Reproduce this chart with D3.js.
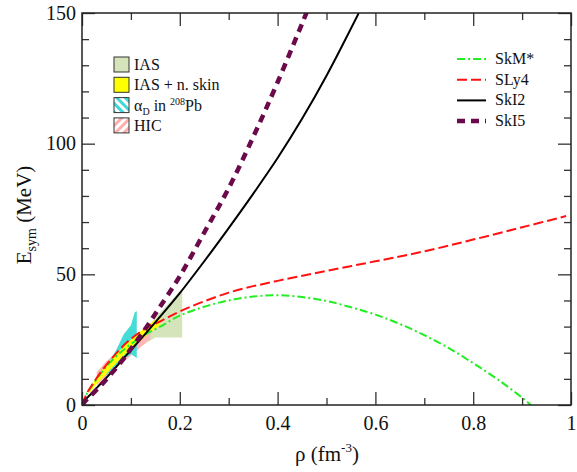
<!DOCTYPE html>
<meta charset="utf-8">
<style>
  body { margin: 0; background: #fff; }
  svg text { font-family: "Liberation Serif", "Times New Roman", Times, "DejaVu Serif", serif; fill: #111; }
  .leg text { font-size: 16px; }
</style>
<body>
<svg width="577" height="472"></svg>
<script src="https://d3js.org/d3.v7.min.js"></script>
<script>
// ---- data ----
var rhoSkI5 = [0, 0.01, 0.02, 0.04, 0.06, 0.08, 0.1, 0.13, 0.156, 0.2, 0.25, 0.3, 0.35, 0.4, 0.46];
var eSkI5   = [0, 2.2, 4, 7.8, 12, 16.5, 21.5, 29.3, 36.6, 49.3, 66, 83, 102.5, 123.5, 150.5];

var rhoSkI2 = [0, 0.01, 0.02, 0.04, 0.06, 0.08, 0.1, 0.13, 0.158, 0.2, 0.25, 0.3, 0.35, 0.4, 0.45, 0.5, 0.566];
var eSkI2   = [0, 2.6, 4.5, 8.5, 12.5, 16.8, 21, 27.3, 33.4, 42.8, 55, 67.7, 80.8, 94.5, 109.5, 126, 150];

var rhoSLy4 = [0, 0.01, 0.02, 0.04, 0.06, 0.08, 0.1, 0.13, 0.16, 0.2, 0.3, 0.4, 0.5, 0.6, 0.7, 0.8, 0.9, 0.99];
var eSLy4   = [0, 4.5, 7.5, 13, 17.6, 21.8, 25.3, 29.3, 32, 35.8, 43, 47.5, 51.3, 55, 58.8, 63.3, 68, 72.3];

var rhoSkMs = [0, 0.01, 0.02, 0.04, 0.06, 0.08, 0.1, 0.13, 0.16, 0.2, 0.25, 0.3, 0.35, 0.4, 0.45, 0.5, 0.55, 0.6, 0.65, 0.7, 0.75, 0.8, 0.85, 0.9, 0.918];
var eSkMs   = [0, 4.3, 7.2, 12.5, 16.8, 20.3, 23.3, 27, 30, 34.2, 37.6, 40, 41.5, 42, 41.3, 39.8, 37.4, 34.6, 31, 26.7, 21.8, 16, 9.8, 2.8, 0];

// IAS band (visible patch)
var rhoIAS = [0.09, 0.12, 0.15, 0.18, 0.205];
var upIAS  = [19.5, 26.5, 33.5, 39.5, 44.5];
var loIAS  = [17.5, 22.5, 25.8, 25.8, 25.8];

// IAS + neutron skin band
var rhoSkin = [0.015, 0.03, 0.05, 0.07, 0.09, 0.11, 0.13, 0.15, 0.16];
var upSkin  = [6.5, 10.5, 15.5, 19.5, 23.2, 26.7, 29.8, 32.6, 33.8];
var loSkin  = [4.5, 8, 12, 16, 19.8, 23.2, 26.3, 29.3, 30.6];

// HIC band
var rhoHIC = [0.03, 0.05, 0.07, 0.09, 0.11, 0.13, 0.14];
var upHIC  = [12.5, 16.8, 20, 22.6, 25, 27.3, 28.2];
var loHIC  = [7.5, 11, 14.2, 17.3, 20.5, 23.7, 25.3];

// alpha_D in 208Pb patch
var rhoAD = [0.05, 0.07, 0.085, 0.1, 0.108, 0.112];
var upAD  = [15, 21, 27, 30.5, 35.5, 36];
var loAD  = [11.5, 15, 17.5, 19.5, 18.5, 18];

var xTicks = [0, 0.2, 0.4, 0.6, 0.8, 1];
var yTicks = [0, 50, 100, 150];

// ---- layout ----
var L = 82, T = 13, W = 489, H = 392;
var FONT = '"Liberation Serif", "Times New Roman", Times, "DejaVu Serif", serif';
var svg = d3.select("svg");
var x = d3.scaleLinear().domain([0, 1]).range([L, L + W]);
var y = d3.scaleLinear().domain([0, 150]).range([T + H, T]);

var defs = svg.append("defs");
defs.append("clipPath").attr("id", "clip")
  .append("rect").attr("x", L).attr("y", T).attr("width", W).attr("height", H);

function stripes(id, col, dir) {
  var p = defs.append("pattern").attr("id", id).attr("patternUnits", "userSpaceOnUse")
    .attr("width", 6).attr("height", 6)
    .attr("patternTransform", "rotate(" + dir + ")");
  p.append("rect").attr("width", 6).attr("height", 6).attr("fill", "#fff");
  p.append("rect").attr("width", 3).attr("height", 6).attr("fill", col);
}
stripes("hatchAD", "#3fd8d2", -45);
stripes("hatchHIC", "#ffadad", 45);

function band(r, up, lo) {
  var pts = r.map(function(d, i) { return [d, up[i]]; });
  for (var i = r.length - 1; i >= 0; i--) pts.push([r[i], lo[i]]);
  return d3.line().x(function(d) { return x(d[0]); }).y(function(d) { return y(d[1]); })(pts) + "Z";
}

var plot = svg.append("g").attr("clip-path", "url(#clip)");
plot.append("path").attr("d", band(rhoIAS, upIAS, loIAS)).attr("fill", "#d6e4bb");
plot.append("path").attr("d", band(rhoHIC, upHIC, loHIC)).attr("fill", "#ffb8b8");
plot.append("path").attr("d", band(rhoAD, upAD, loAD)).attr("fill", "#44dcd6");
plot.append("path").attr("d", band(rhoSkin, upSkin, loSkin)).attr("fill", "#ffff00");

var curves = [
  { r: rhoSkMs, e: eSkMs, color: "#22ee22", w: 2, dash: "8,3,2,3" },
  { r: rhoSLy4, e: eSLy4, color: "#ff1111", w: 2, dash: "10,4" },
  { r: rhoSkI2, e: eSkI2, color: "#000", w: 2, dash: null },
  { r: rhoSkI5, e: eSkI5, color: "#6a0a4a", w: 4.5, dash: "8,6" }
];
var line = d3.line().curve(d3.curveCatmullRom)
  .x(function(d) { return x(d[0]); }).y(function(d) { return y(d[1]); });
curves.forEach(function(c) {
  plot.append("path")
    .attr("d", line(c.r.map(function(d, i) { return [d, c.e[i]]; })))
    .attr("fill", "none").attr("stroke", c.color).attr("stroke-width", c.w)
    .attr("stroke-dasharray", c.dash);
});

// ---- axes ----
function axisG(ax, tr) {
  var g = svg.append("g").attr("transform", tr).call(ax);
  g.attr("font-family", null).attr("font-size", null);
  g.select(".domain").remove();
  g.selectAll(".tick line").attr("stroke", "#333").attr("stroke-width", 1.3);
  return g;
}
var minorX = d3.range(0.1, 1, 0.2);
var minorY = d3.range(10, 150, 10).filter(function(d) { return d % 50 !== 0; });

axisG(d3.axisBottom(x).tickValues(xTicks).tickSize(-13).tickPadding(6)
  .tickFormat(function(d) { return d === 0 ? "0" : d === 1 ? "1" : d3.format(".1f")(d); }),
  "translate(0," + (T + H) + ")").selectAll("text").attr("dy", "0.95em");
axisG(d3.axisBottom(x).tickValues(minorX).tickSize(-7).tickFormat(""), "translate(0," + (T + H) + ")");
axisG(d3.axisTop(x).tickValues(xTicks).tickSize(-13).tickFormat(""), "translate(0," + T + ")");
axisG(d3.axisTop(x).tickValues(minorX).tickSize(-7).tickFormat(""), "translate(0," + T + ")");
axisG(d3.axisLeft(y).tickValues(yTicks).tickSize(-13).tickPadding(6), "translate(" + L + ",0)")
  .selectAll("text").attr("dy", "0.3em");
axisG(d3.axisLeft(y).tickValues(minorY).tickSize(-7).tickFormat(""), "translate(" + L + ",0)");
axisG(d3.axisRight(y).tickValues(yTicks).tickSize(-13).tickFormat(""), "translate(" + (L + W) + ",0)");
axisG(d3.axisRight(y).tickValues(minorY).tickSize(-7).tickFormat(""), "translate(" + (L + W) + ",0)");
svg.selectAll(".tick text").attr("fill", "#111").style("font-family", FONT).style("font-size", "20px");

svg.append("rect").attr("x", L).attr("y", T).attr("width", W).attr("height", H)
  .attr("fill", "none").attr("stroke", "#222").attr("stroke-width", 1.5);

// axis titles
var xt = svg.append("text").attr("x", 327).attr("y", 461).attr("text-anchor", "middle")
  .style("font-family", FONT).style("font-size", "21px");
xt.append("tspan").text("ρ (fm");
xt.append("tspan").attr("dy", -9).style("font-size", "13px").text("-3");
xt.append("tspan").attr("dy", 9).text(")");

var yt = svg.append("text").attr("transform", "translate(31,215) rotate(-90)")
  .attr("text-anchor", "middle").style("font-family", FONT).style("font-size", "21px");
yt.append("tspan").text("E");
yt.append("tspan").attr("dy", 5).style("font-size", "14px").text("sym");
yt.append("tspan").attr("dy", -5).text(" (MeV)");

// ---- legends ----
var bandLeg = [
  { fill: "#d6e4bb", label: "IAS" },
  { fill: "#ffff00", label: "IAS + n. skin" },
  { fill: "url(#hatchAD)", label: "AD" },
  { fill: "url(#hatchHIC)", label: "HIC" }
];
var lg = svg.append("g").attr("class", "leg").style("font-family", FONT);
bandLeg.forEach(function(b, i) {
  var yy = 57 + i * 20.3;
  lg.append("rect").attr("x", 114).attr("y", yy).attr("width", 15).attr("height", 15)
    .attr("fill", b.fill).attr("stroke", "#333").attr("stroke-width", 1);
  var t = lg.append("text").attr("x", 134).attr("y", yy + 13).style("font-size", "16px");
  if (b.label === "AD") {
    t.append("tspan").text("α");
    t.append("tspan").attr("dy", 4).style("font-size", "10px").text("D");
    t.append("tspan").attr("dy", -4).text(" in ");
    t.append("tspan").attr("dy", -6).style("font-size", "10px").text("208");
    t.append("tspan").attr("dy", 6).text("Pb");
  } else {
    t.text(b.label);
  }
});

var lineLeg = ["SkM*", "SLy4", "SkI2", "SkI5"];
lineLeg.forEach(function(name, i) {
  var c = curves[i], yy = 59 + i * 20.7;
  lg.append("line").attr("x1", 457).attr("x2", 486).attr("y1", yy).attr("y2", yy)
    .attr("stroke", c.color).attr("stroke-width", c.w === 2 ? 2 : 4.5)
    .attr("stroke-dasharray", c.dash);
  lg.append("text").attr("x", 495).attr("y", yy + 5).style("font-size", "16px").text(name);
});
</script>
</body>
